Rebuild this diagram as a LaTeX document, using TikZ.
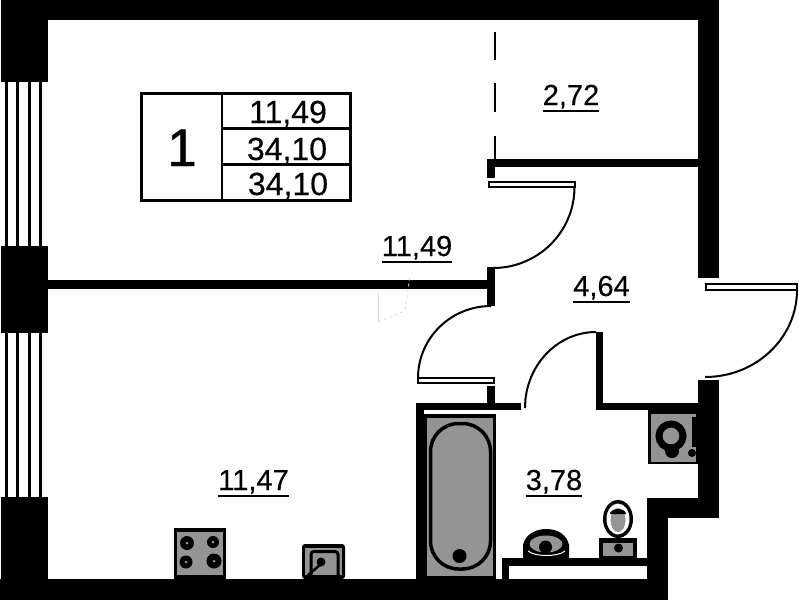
\documentclass[tikz,border=0pt]{standalone}
\usepackage{fontspec}
\setmainfont{Liberation Sans}
\newfontfamily\lblfont[FakeBold=0.25]{Liberation Sans}
\newfontfamily\numfont[FakeBold=0.9]{Liberation Sans}
\definecolor{fixgray}{gray}{0.58}
\tikzset{
  x=1pt,y=-1pt,
  wall/.style={fill=black,draw=none},
  arcline/.style={draw=black,line width=2pt},
  leaf/.style={draw=black,fill=white,line width=2pt},
  area/.style={inner sep=0pt,anchor=base,font=\lblfont\fontsize{29}{29}\selectfont},
  cell/.style={inner sep=0pt,anchor=base,font=\lblfont\fontsize{32}{32}\selectfont},
  tline/.style={draw=black,line width=3pt},
  glass/.style={draw=black,line width=2.5pt},
  faint/.style={draw=black!14,line width=0.8pt},
}
\newcommand{\ul}[1]{\vtop{\hbox{#1}\kern1.2pt\hrule height 2pt}}
\begin{document}
\begin{tikzpicture}
\useasboundingbox (0,0) rectangle (799,600);
\fill[white] (0,0) rectangle (799,600);
% outer walls
\fill[wall] (1,0) rectangle (719,20);
\fill[wall] (1,0) rectangle (48,82);
\fill[wall] (1,246) rectangle (48,333);
\fill[wall] (1,497) rectangle (48,600);
\fill[wall] (0,579) rectangle (668,600);
\fill[wall] (697.5,0) rectangle (719,278);
\fill[wall] (697.5,380) rectangle (719,518);
\fill[wall] (647,498) rectangle (719,518);
\fill[wall] (647,498) rectangle (668,600);
% windows
\foreach \xx in {6.5,17.5,29.5,40.5}{
  \draw[glass] (\xx,82) -- (\xx,246);
  \draw[glass] (\xx,333) -- (\xx,497);
}
% inner walls
\fill[wall] (48,280) rectangle (491,289);
\fill[wall] (487,267) rectangle (495,306);
\fill[wall] (487,158.5) rectangle (698,167);
\fill[wall] (487,158.5) rectangle (495,177.5);
\fill[wall] (487,386) rectangle (495,403);
\fill[wall] (416,403) rectangle (521,410);
\fill[wall] (416,403) rectangle (424,579);
\fill[wall] (596,332) rectangle (602.5,408);
\fill[wall] (596,403) rectangle (698,410);
\fill[wall] (502,558) rectangle (647,566);
\fill[wall] (502,558) rectangle (509,579);
% faint trace below the partition
\draw[faint] (378,293) -- (378,322);
\draw[faint,dashed] (378,322) -- (405,311) -- (410,276);
% dashed opening
\draw[line width=2pt] (495,32) -- (495,60);
\draw[line width=2pt] (495,83) -- (495,112);
\draw[line width=2pt] (495,136) -- (495,159);
% doors
\draw[leaf] (489,182) rectangle (574.5,186.5);
\draw[arcline] (574.5,187) .. controls (574.5,232) and (538,268) .. (493,268);
\draw[leaf] (418,378) rectangle (493.5,382.5);
\draw[arcline] (418,378) .. controls (418,338) and (451,306) .. (491,306);
\draw[arcline] (596,332) .. controls (557,332) and (525,366) .. (525,408);
\draw[leaf] (706,284) rectangle (796.5,289.5);
\draw[arcline] (797,290) .. controls (797,338) and (756,377) .. (705,377);
% bath
\fill[wall] (424,414) rectangle (496,579);
\fill[fixgray] (427,418) rectangle (493,576);
\draw[black,line width=3.5pt,fill=fixgray,rounded corners=28pt] (430.5,423.5) rectangle (490.5,569);
\fill[black] (459.5,556) circle (7);
% washing machine
\fill[wall] (648,410) rectangle (698,464);
\fill[fixgray] (651,414) rectangle (696,462);
\fill[wall] (692,417) rectangle (698,447);
\draw[black,line width=7pt,fill=fixgray] (671,436) circle (12);
\fill[black] (672,451) circle (7);
\fill[black] (692,453) circle (4);
% toilet
\fill[black] (618,519) ellipse (15 and 19);
\fill[white] (618,519) ellipse (11.5 and 15.5);
\fill[fixgray] (618,520) ellipse (7.5 and 12);
\fill[black] (610,514) arc (180:360:8 and 5) -- cycle;
\fill[wall] (599,538) rectangle (637,558);
\fill[fixgray] (603,543) rectangle (633,556);
\fill[black] (618.5,548) circle (4.5);
% wash basin
\fill[black] (523,558) -- (523,545) .. controls (525,535) and (535,529) .. (546,529) .. controls (558,529) and (567,535) .. (569,545) -- (569,558) -- cycle;
\fill[fixgray] (546,544) ellipse (16.5 and 8.5);
\fill[black] (545.5,547) circle (6.5);
\draw[white,line width=1pt] (528,551) .. controls (535,557) and (558,557) .. (565,551);
% stove
\fill[wall] (174,528) rectangle (226,579);
\fill[fixgray] (177,532) rectangle (223,575);
\foreach \cx/\cy/\cr in {187/543/7,213/542/6,186/562/6.5,214/561/7.5}{
  \fill[black] (\cx,\cy) circle (\cr);
  \fill[fixgray] (\cx,\cy) circle (1.5);
}
% kitchen sink
\fill[wall,rounded corners=3pt] (302,544) rectangle (345,579);
\fill[fixgray] (305,548) rectangle (342,575);
\draw[black,line width=3pt,rounded corners=3pt] (311,576) -- (311,551.5) -- (338,551.5) -- (338,576);
\fill[black] (321,562) circle (4.5);
\draw[black,line width=2.5pt] (321,564) -- (307,576);
% legend table
\draw[tline] (141.5,93.5) rectangle (350.5,200.5);
\draw[draw=black,line width=2.5pt] (222,93.5) -- (222,200.5);
\draw[tline] (222,128.5) -- (350.5,128.5);
\draw[tline] (222,164.5) -- (350.5,164.5);
\node[inner sep=0pt,anchor=base,font=\numfont\fontsize{53}{53}\selectfont] (num) at (182,166) {1};
\node[cell] (c1) at (288,123) {11,49};
\node[cell] (c2) at (287,160) {34,10};
\node[cell] (c3) at (288,195) {34,10};
% areas
\node[area] (a1) at (571,105) {\ul{2,72}};
\node[area] (a2) at (417,256) {\ul{11,49}};
\node[area] (a3) at (601.5,296) {\ul{4,64}};
\node[area] (a4) at (253.5,490) {\ul{11,47}};
\node[area] (a5) at (554,490) {\ul{3,78}};
\end{tikzpicture}
\end{document}
